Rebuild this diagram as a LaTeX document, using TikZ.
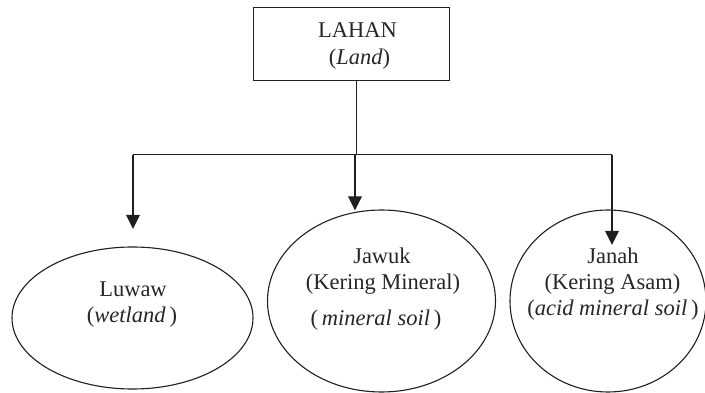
\documentclass[tikz,border=0pt]{standalone}
\usepackage{fontspec}
\setmainfont{Liberation Serif}
\usetikzlibrary{arrows.meta,shapes.geometric}
\begin{document}
\begin{tikzpicture}[x=1pt,y=-1pt,
  thinline/.style={line width=1pt, draw=black!88},
  arrowline/.style={line width=2.6pt, draw=black!88, -{Triangle[width=13pt,length=14pt]}},
  oval/.style={draw=black!88, ellipse, line width=1.1pt, inner sep=0pt},
  lbl/.style={anchor=base, inner sep=0pt, text=black!85, font=\fontsize{22.5}{27}\selectfont}]
\useasboundingbox (0,0) rectangle (705,393);
% top box
\node[draw=black!88, line width=1pt, minimum width=196pt, minimum height=73pt, inner sep=0pt] (lahan) at (351,44.5) {};
\node[lbl] (lahan1) at (357.5,37.7) {LAHAN};
\node[lbl] (lahan2) at (359.5,65) {(\textit{Land})};
% ovals
\node[oval, minimum width=241pt, minimum height=142pt] (luwaw) at (132.5,318) {};
\node[oval, minimum width=228pt, minimum height=182pt] (jawuk) at (381.5,301) {};
\node[oval, minimum width=196pt, minimum height=182pt] (janah) at (608,301) {};
% oval texts
\node[lbl] (luwaw1) at (133,296) {Luwaw};
\node[lbl] (luwaw2) at (132,322) {(\textit{wetland}\,)};
\node[lbl] (jawuk1) at (382,263.5) {Jawuk};
\node[lbl] (jawuk2) at (383,289.5) {(Kering Mineral)};
\node[lbl] (jawuk3) at (376,325.5) {(\,\textit{mineral soil}\,)};
\node[lbl] (janah1) at (613,263.5) {Janah};
\node[lbl] (janah2) at (612.5,290) {(Kering Asam)};
\node[lbl] (janah3) at (613,315.5) {(\textit{acid mineral soil}\,)};
% connectors
\coordinate (stem) at (356,155);
\coordinate (hl) at (133,155);
\coordinate (hm) at (355,155);
\coordinate (hr) at (612,155);
\coordinate (luwawtip) at (133,229);
\coordinate (jawuktip) at (355,210.5);
\coordinate (janahtip) at (612,245);
\draw[thinline] (lahan.south -| stem) -- (stem);
\draw[thinline] (hl) -- (hr);
\draw[arrowline] (hl) -- (luwawtip);
\draw[arrowline] (hm) -- (jawuktip);
\draw[arrowline] (hr) -- (janahtip);
\end{tikzpicture}
\end{document}
